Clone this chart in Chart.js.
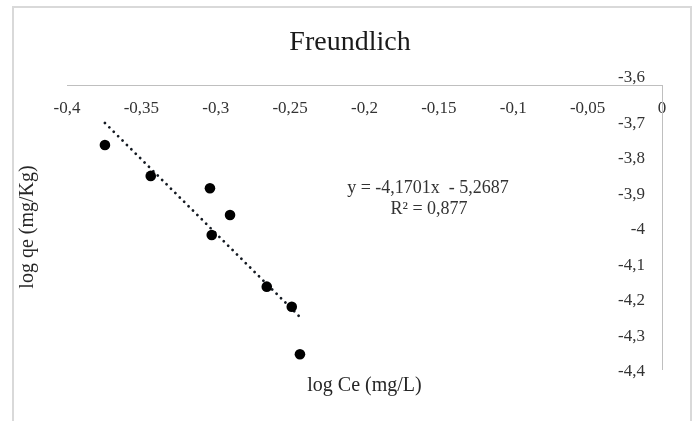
<!DOCTYPE html>
<html><head><meta charset="utf-8">
<script src="https://cdn.jsdelivr.net/npm/chart.js@4"></script>
<style>
html,body{margin:0;padding:0;background:#fff;}
#wrap{position:relative;width:700px;height:421px;overflow:hidden;background:#fff;}
#frame{position:absolute;left:12px;top:6px;width:680px;height:440px;border:2px solid #d9d9d9;box-sizing:border-box;}
canvas{position:absolute;left:0;top:0;}
</style></head>
<body><div id="wrap"><div id="frame"></div><canvas id="c" width="700" height="421"></canvas></div>
<script>
// ---- data ----
const logCe = [-0.3745, -0.3437, -0.3039, -0.2904, -0.3027, -0.2657, -0.2489, -0.2434];
const logQe = [-3.769, -3.856, -3.891, -3.966, -4.0225, -4.168, -4.2245, -4.3586];
const trendSlope = -4.1701;
const trendIntercept = -5.2687;
const trendR2 = 0.877;
const chartTitle = 'Freundlich';
const xTitle = 'log Ce (mg/L)';
const yTitle = 'log qe (mg/Kg)';
const eqLines = ['y = -4,1701x  - 5,2687', 'R\u00B2 = 0,877'];

const fmt = v => String(Math.round(v * 100) / 100).replace('.', ',');
const points = logCe.map((x, i) => ({x: x, y: logQe[i]}));
const xMin = Math.min(...logCe), xMax = Math.max(...logCe);
const trend = [xMin, xMax].map(x => ({x: x, y: trendSlope * x + trendIntercept}));

const FONT = 'Liberation Serif';
Chart.defaults.font.family = FONT;

const eqPlugin = {
  id: 'eq',
  afterDatasetsDraw(chart) {
    const ctx = chart.ctx;
    ctx.save();
    ctx.font = '18px "' + FONT + '"';
    ctx.fillStyle = '#333';
    ctx.textAlign = 'center';
    ctx.textBaseline = 'alphabetic';
    ctx.fillText(eqLines[0], 428, 193);
    ctx.fillText(eqLines[1], 429, 214);
    ctx.restore();
  }
};

new Chart(document.getElementById('c'), {
  type: 'scatter',
  data: {
    datasets: [
      {
        label: 'data',
        data: points,
        pointRadius: 5.3,
        pointHoverRadius: 5.3,
        backgroundColor: '#000',
        borderColor: '#000',
        pointBorderWidth: 0
      },
      {
        type: 'line',
        label: 'trend',
        data: trend,
        showLine: true,
        pointRadius: 0,
        borderColor: '#141a22',
        borderWidth: 2.8,
        borderDash: [0.01, 6.2],
        borderCapStyle: 'round',
        fill: false
      }
    ]
  },
  options: {
    responsive: false,
    animation: false,
    events: [],
    layout: {padding: 0},
    plugins: {
      legend: {display: false},
      tooltip: {enabled: false},
      title: {
        display: true,
        text: chartTitle,
        color: '#1a1a1a',
        font: {family: FONT, size: 28, weight: 'normal'},
        padding: {top: 25.7, bottom: 25.7}
      }
    },
    scales: {
      x: {
        type: 'linear',
        position: {y: -3.6},
        min: -0.4, max: 0,
        afterFit(s) { s.height = 0; },
        grid: {display: false, drawTicks: false},
        border: {display: true, color: '#bfbfbf', width: 1},
        ticks: {stepSize: 0.05, padding: 13, color: '#333', font: {family: FONT, size: 17},
                callback: v => fmt(v), maxRotation: 0, autoSkip: false}
      },
      y: {
        type: 'linear',
        position: 'right',
        min: -4.4, max: -3.6,
        afterFit(s) { s.width = 38; },
        grid: {display: false, drawTicks: false},
        border: {display: true, color: '#bfbfbf', width: 1},
        ticks: {stepSize: 0.1, mirror: true, padding: -17, labelOffset: 3, color: '#333',
                font: {family: FONT, size: 17},
                callback: v => (Math.abs(v + 3.6) < 1e-9 ? [fmt(v), ''] : fmt(v)),
                autoSkip: false}
      },
      xt: {
        type: 'linear',
        position: 'bottom',
        afterFit(s) { s.height = 52; },
        grid: {display: false, drawTicks: false},
        border: {display: false},
        ticks: {display: false},
        title: {display: true, text: xTitle, color: '#262626', font: {family: FONT, size: 20},
                padding: {top: 0, bottom: 23}}
      },
      yt: {
        type: 'linear',
        position: 'left',
        afterFit(s) { s.width = 67; },
        grid: {display: false, drawTicks: false},
        border: {display: false},
        ticks: {display: false},
        title: {display: true, text: yTitle, color: '#262626', font: {family: FONT, size: 20},
                padding: {top: 16, bottom: 0}}
      }
    }
  },
  plugins: [eqPlugin]
});
</script>
</body></html>
